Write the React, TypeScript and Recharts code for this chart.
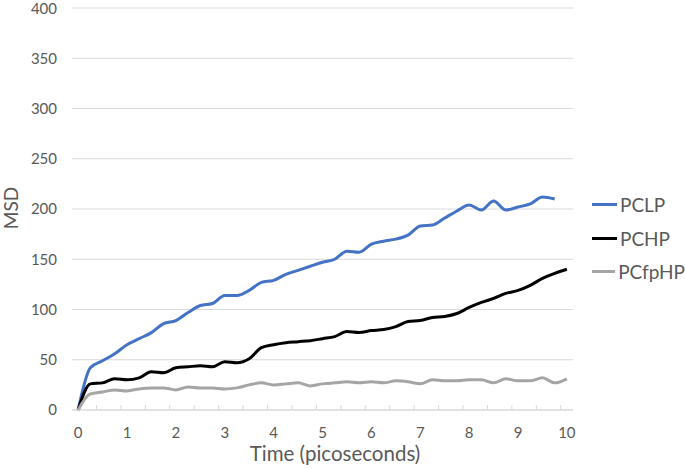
import React from "react";
import { LineChart, Line, XAxis, YAxis, CartesianGrid, Legend } from "recharts";

const TIME = [
  0, 0.25, 0.5, 0.75, 1, 1.25, 1.5, 1.75, 2, 2.25, 2.5, 2.75, 3, 3.25, 3.5, 3.75,
  4, 4.25, 4.5, 4.75, 5, 5.25, 5.5, 5.75, 6, 6.25, 6.5, 6.75, 7, 7.25, 7.5, 7.75,
  8, 8.25, 8.5, 8.75, 9, 9.25, 9.5, 9.75, 10,
];
const PCLP = [
  0, 42, 49, 56, 65, 71, 77, 86, 89, 97, 104, 106, 114, 114, 119, 127,
  129, 135, 139, 143, 147, 150, 158, 157, 165, 168, 170, 174, 183, 184, 191, 198,
  204, 199, 208, 199, 202, 205, 212, 210, null,
];
const PCHP = [
  0, 26, 27, 31, 30, 32, 38, 37, 42, 43, 44, 43, 48, 47, 51, 62,
  65, 67, 68, 69, 71, 73, 78, 77, 79, 80, 83, 88, 89, 92, 93, 96,
  102, 107, 111, 116, 119, 124, 131, 136, 140,
];
const PCFPHP = [
  0, 16, 18, 20, 19, 21, 22, 22, 20, 23, 22, 22, 21, 22, 25, 27,
  25, 26, 27, 24, 26, 27, 28, 27, 28, 27, 29, 28, 26, 30, 29, 29,
  30, 30, 27, 31, 29, 29, 32, 27, 31,
];

const X_LABELS = [0, 1, 2, 3, 4, 5, 6, 7, 8, 9, 10];
const X_MINOR = [
  0.375, 0.875, 1.375, 1.875, 2.375, 2.875, 3.375, 3.875, 4.375, 4.875,
  5.375, 5.875, 6.375, 6.875, 7.375, 7.875, 8.375, 8.875, 9.375, 9.875,
];
const Y_TICKS = [0, 50, 100, 150, 200, 250, 300, 350, 400];

const SERIES = [
  { key: "PCLP", color: "#4472C4" },
  { key: "PCHP", color: "#000000" },
  { key: "PCfpHP", color: "#A5A5A5" },
];

const data = TIME.map((t, i) => ({
  t,
  PCLP: PCLP[i],
  PCHP: PCHP[i],
  PCfpHP: PCFPHP[i],
}));

const FONT = "Lato, 'Open Sans', sans-serif";
const TEXT = "#595959";
const GRID = "#D9D9D9";

const xTick = (props: any) => {
  const { x, y, payload } = props;
  const v = payload.value;
  if (!Number.isInteger(v)) {
    return <line x1={x} x2={x} y1={y} y2={y - 5} stroke={GRID} strokeWidth={1} />;
  }
  return (
    <text x={x} y={y + 28} textAnchor="middle" fill={TEXT} fontSize={15} fontFamily={FONT}>
      {v}
    </text>
  );
};

const renderLegend = () => (
  <div style={{ fontFamily: FONT, fontSize: 19, color: TEXT }}>
    {SERIES.map((s) => (
      <div key={s.key} style={{ display: "flex", alignItems: "center", height: 33.5 }}>
        <span style={{ display: "inline-block", width: 25, height: 3, background: s.color, marginRight: 3 }} />
        <span>{s.key}</span>
      </div>
    ))}
  </div>
);

export default function App() {
  return (
    <div style={{ width: 685, height: 469, background: "#fff" }}>
      <style>{"body{margin:0}"}</style>
      <LineChart width={685} height={469} data={data} margin={{ top: 8, right: 112, left: 0, bottom: 0 }}>
        <CartesianGrid stroke={GRID} vertical={false} />
        <XAxis
          dataKey="t"
          type="number"
          domain={[-0.125, 10.125]}
          ticks={[...X_LABELS, ...X_MINOR].sort((a, b) => a - b)}
          interval={0}
          height={59}
          tickSize={0}
          tickMargin={0}
          tickLine={false}
          tick={xTick}
          axisLine={{ stroke: GRID }}
          label={() => (
            <text x={335} y={461} textAnchor="middle" fill={TEXT} fontSize={20.5} fontFamily={FONT}>
              Time (picoseconds)
            </text>
          )}
        />
        <YAxis
          domain={[0, 400]}
          ticks={Y_TICKS}
          width={72}
          tickSize={0}
          tickMargin={15}
          axisLine={false}
          tickLine={false}
          tick={{ fill: TEXT, fontSize: 15, fontFamily: FONT }}
          label={() => (
            <text
              x={18}
              y={208}
              transform="rotate(-90 18 208)"
              textAnchor="middle"
              fill={TEXT}
              fontSize={19}
              fontFamily={FONT}
            >
              MSD
            </text>
          )}
        />
        <Legend
          layout="horizontal"
          verticalAlign="middle"
          align="center"
          content={renderLegend}
          wrapperStyle={{ left: 592, top: 188, width: 93, height: 101 }}
        />
        {SERIES.map((s) => (
          <Line
            key={s.key}
            type="monotone"
            dataKey={s.key}
            stroke={s.color}
            strokeWidth={3}
            dot={false}
            isAnimationActive={false}
          />
        ))}
      </LineChart>
    </div>
  );
}
